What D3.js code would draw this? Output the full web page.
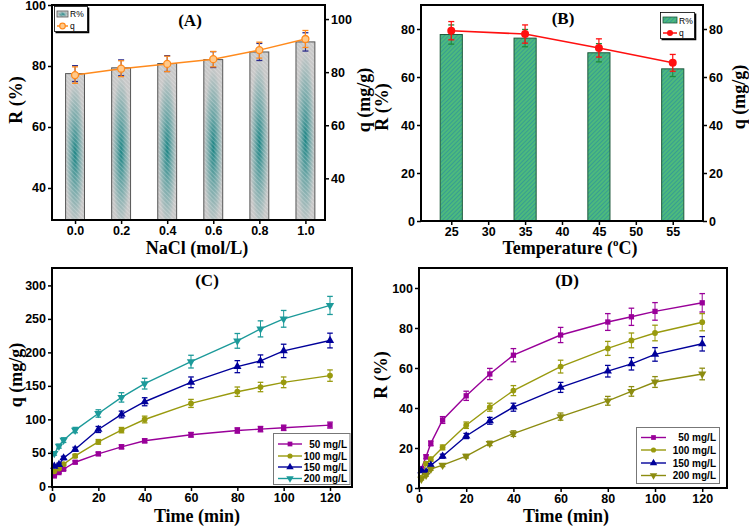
<!DOCTYPE html>
<html><head><meta charset="utf-8">
<script src="https://cdn.jsdelivr.net/npm/d3@7"></script>
<style>body{margin:0;background:#fff}</style>
</head><body>
<svg id="c" width="749" height="529" xmlns="http://www.w3.org/2000/svg"></svg>
<script>
// ---------- Panel A data ----------
const nacl = [0.0, 0.2, 0.4, 0.6, 0.8, 1.0];
const naclTickLabels = ["0.0", "0.2", "0.4", "0.6", "0.8", "1.0"];
const naclR = [77.5, 79.4, 80.8, 82.1, 84.6, 87.9];
const naclRErr = [2.6, 2.6, 2.6, 2.6, 2.8, 3.0];
const naclQ = [78.9, 81.3, 83.1, 84.9, 88.3, 92.5];
const naclQErr = [3.1, 3.0, 2.9, 2.9, 3.0, 3.2];
const aLeftTicks = [40, 60, 80, 100];
const aRightTicks = [40, 60, 80, 100];
// ---------- Panel B data ----------
const temps = [25, 35, 45, 55];
const tempTicks = [25, 30, 35, 40, 45, 50, 55];
const tempR = [77.7, 76.2, 70.1, 63.4];
const tempRErr = [4.0, 3.6, 3.8, 3.2];
const tempQ = [79.3, 77.9, 72.1, 65.9];
const tempQErr = [3.8, 3.8, 3.8, 3.5];
const bTicks = [0, 20, 40, 60, 80];
// ---------- Panels C & D data ----------
const times = [1, 3, 5, 10, 20, 30, 40, 60, 80, 90, 100, 120];
const timeTicks = [0, 20, 40, 60, 80, 100, 120];
const concLabels = ["50 mg/L", "100 mg/L", "150 mg/L", "200 mg/L"];
const qC50 = [15.5, 20.5, 25.5, 36, 48.5, 59, 68, 77, 83.4, 85.4, 87.4, 91.4];
const qC100 = [22.5, 26.5, 33, 45.4, 66.4, 83.9, 99.8, 123.8, 141.3, 148.3, 155.3, 165.3];
const qC150 = [30, 32.5, 42.4, 55.4, 84.9, 107.3, 126.3, 155.3, 178.7, 187.2, 202.2, 217.7];
const qC200 = [49, 60, 69, 84, 108.8, 132.8, 153.3, 186.2, 217.2, 235.1, 250.1, 270.1];
const qC50Err = [1, 1, 1.5, 2, 2.5, 3, 3, 3.5, 4, 4, 4, 4.5];
const qC100Err = [1.5, 1.5, 2, 2.5, 3.5, 4, 5, 6, 7, 7, 8, 8.5];
const qC150Err = [2, 2, 2.5, 3, 4.5, 5, 6, 8, 9, 9, 10, 11];
const qC200Err = [2.5, 3, 3.5, 4, 5.5, 7, 8, 9.5, 11, 12, 12.5, 13.5];
const cTicks = [0, 50, 100, 150, 200, 250, 300];
const rD50 = [9.7, 15.6, 22.3, 34, 46.1, 57, 66.4, 76.5, 83, 85.6, 88.3, 92.6];
const rD100 = [5.2, 12.2, 14.4, 20.3, 31.4, 40.4, 48.7, 60.7, 69.8, 73.8, 77.5, 82.9];
const rD150 = [8.6, 8.1, 11.4, 15.9, 26, 33.6, 40.4, 50.3, 58.4, 62.1, 66.8, 72.1];
const rD200 = [4.4, 6.4, 9.4, 11.4, 15.9, 22.3, 27.2, 35.7, 43.6, 48.3, 53, 57];
const rD50Err = [0.8, 1, 1.2, 1.7, 2.3, 2.8, 3.3, 3.8, 4.2, 4.3, 4.4, 4.6];
const rD100Err = [0.5, 0.8, 1, 1.2, 1.6, 2, 2.5, 3.2, 3.5, 3.7, 3.9, 4.3];
const rD150Err = [0.5, 0.6, 0.8, 1, 1.3, 1.7, 2, 2.5, 2.9, 3.1, 3.4, 3.6];
const rD200Err = [0.4, 0.5, 0.6, 0.7, 0.9, 1.1, 1.4, 1.8, 2.2, 2.4, 2.7, 2.9];
const dTicks = [0, 20, 40, 60, 80, 100];

const svg = d3.select("#c");
const defs = svg.append("defs");
const SANS = "Liberation Sans, Arial, sans-serif";
const SERIF = "Liberation Serif, Times New Roman, serif";

// Bar fills
const gA = defs.append("radialGradient").attr("id", "gradA").attr("cx", 0.5).attr("cy", 0.55).attr("r", 0.5);
gA.append("stop").attr("offset", 0).attr("stop-color", "#1d8585");
gA.append("stop").attr("offset", 0.45).attr("stop-color", "#72a8a8");
gA.append("stop").attr("offset", 1).attr("stop-color", "#c8c8c8");
const hA = defs.append("pattern").attr("id", "hatchA").attr("width", 3).attr("height", 3)
  .attr("patternUnits", "userSpaceOnUse").attr("patternTransform", "rotate(-45)");
hA.append("line").attr("x1", 0).attr("y1", 0).attr("x2", 0).attr("y2", 3)
  .attr("stroke", "#ffffff").attr("stroke-opacity", 0.45).attr("stroke-width", 1.1);
const hB = defs.append("pattern").attr("id", "hatchB").attr("width", 3).attr("height", 3)
  .attr("patternUnits", "userSpaceOnUse").attr("patternTransform", "rotate(45)");
hB.append("rect").attr("width", 3).attr("height", 3).attr("fill", "#4dba7c");
hB.append("line").attr("x1", 0).attr("y1", 0).attr("x2", 0).attr("y2", 3)
  .attr("stroke", "#2a8ea0").attr("stroke-width", 1.3);

function styleAxis(a) {
  a.select(".domain").remove();
  a.selectAll(".tick line").attr("stroke", "#000").attr("stroke-width", 1.5);
  a.selectAll(".tick text").attr("font-family", SANS).attr("font-weight", "bold")
    .attr("font-size", 12.5).attr("fill", "#000");
}
function addAxis(gen, x, y, ticks, fmt) {
  const a = svg.append("g").attr("transform", `translate(${x},${y})`)
    .call(gen.tickValues(ticks).tickFormat(fmt || (d => d)).tickSizeOuter(0).tickSize(4).tickPadding(2));
  styleAxis(a);
  return a;
}
function frame(p) {
  svg.append("rect").attr("x", p.x0).attr("y", p.y0).attr("width", p.x1 - p.x0).attr("height", p.y1 - p.y0)
    .attr("fill", "none").attr("stroke", "#000").attr("stroke-width", 2);
}
function title(txt, x, y) {
  svg.append("text").attr("x", x).attr("y", y).attr("text-anchor", "middle").attr("font-family", SERIF)
    .attr("font-weight", "bold").attr("font-size", 17).text(txt);
}
function yLabel(txt, x, y) {
  svg.append("text").attr("transform", `translate(${x},${y}) rotate(-90)`).attr("text-anchor", "middle")
    .attr("dominant-baseline", "middle").attr("font-family", SERIF).attr("font-weight", "bold")
    .attr("font-size", 18).text(txt);
}
function xLabel(txt, x, y) {
  return svg.append("text").attr("x", x).attr("y", y).attr("text-anchor", "middle").attr("dominant-baseline", "middle")
    .attr("font-family", SERIF).attr("font-weight", "bold").attr("font-size", 18).text(txt);
}
function errBars(g, xs, ys, es, x, y, color, cap, sw) {
  xs.forEach((xv, i) => {
    const cx = x(xv), t = y(ys[i] + es[i]), b = y(ys[i] - es[i]);
    g.append("line").attr("x1", cx).attr("x2", cx).attr("y1", t).attr("y2", b).attr("stroke", color).attr("stroke-width", sw || 1);
    g.append("line").attr("x1", cx - cap).attr("x2", cx + cap).attr("y1", t).attr("y2", t).attr("stroke", color).attr("stroke-width", 1.3);
    g.append("line").attr("x1", cx - cap).attr("x2", cx + cap).attr("y1", b).attr("y2", b).attr("stroke", color).attr("stroke-width", 1.3);
  });
}

// ================= Panel A =================
const pA = {x0: 52, x1: 325, y0: 5, y1: 220};
const xA = d3.scaleLinear([-0.1, 1.085], [pA.x0, pA.x1]);
const yAL = d3.scaleLinear([29.5, 100], [pA.y1, pA.y0]);
const yAR = d3.scaleLinear([24.3, 105.3], [pA.y1, pA.y0]);
const bwA = (xA(0.2) - xA(0)) * 0.41;
const gAbar = svg.append("g");
nacl.forEach((v, i) => {
  const r = {x: xA(v) - bwA / 2, y: yAL(naclR[i]), w: bwA, h: pA.y1 - yAL(naclR[i])};
  gAbar.append("rect").attr("x", r.x).attr("y", r.y).attr("width", r.w).attr("height", r.h).attr("fill", "url(#gradA)");
  gAbar.append("rect").attr("x", r.x).attr("y", r.y).attr("width", r.w).attr("height", r.h)
    .attr("fill", "url(#hatchA)").attr("stroke", "#555").attr("stroke-width", 1);
});
errBars(svg.append("g"), nacl, naclR, naclRErr, xA, yAL, "#2a2a8a", 3, 1);
const lineA = d3.line().x((d, i) => xA(nacl[i])).y(d => yAR(d));
svg.append("path").datum(naclQ).attr("d", lineA).attr("fill", "none").attr("stroke", "#ff8a1c").attr("stroke-width", 1.5);
errBars(svg.append("g"), nacl, naclQ, naclQErr, xA, yAR, "#ff8a1c", 3, 1.2);
svg.append("g").selectAll("circle").data(naclQ).join("circle")
  .attr("cx", (d, i) => xA(nacl[i])).attr("cy", d => yAR(d)).attr("r", 3.5)
  .attr("fill", "#ffc98a").attr("stroke", "#ff8a1c").attr("stroke-width", 1.3);
addAxis(d3.axisBottom(xA), 0, pA.y1, nacl, (d, i) => naclTickLabels[i]);
addAxis(d3.axisLeft(yAL), pA.x0, 0, aLeftTicks);
addAxis(d3.axisRight(yAR), pA.x1, 0, aRightTicks);
frame(pA);
// legend A
svg.append("rect").attr("x", 54.5).attr("y", 6.5).attr("width", 33).attr("height", 25).attr("fill", "#fff")
  .attr("stroke", "#000").attr("stroke-width", 0.8);
svg.append("path").attr("d", "M55.5,32.5 H88.5 V7.5").attr("fill", "none").attr("stroke", "#000").attr("stroke-width", 1.6);
svg.append("rect").attr("x", 57).attr("y", 11).attr("width", 11).attr("height", 6).attr("fill", "url(#gradA)");
svg.append("rect").attr("x", 57).attr("y", 11).attr("width", 11).attr("height", 6).attr("fill", "url(#hatchA)").attr("stroke", "#555").attr("stroke-width", 0.8);
svg.append("text").attr("x", 70).attr("y", 17).attr("font-family", SANS).attr("font-size", 8.5).text("R%");
svg.append("line").attr("x1", 57).attr("x2", 68).attr("y1", 26).attr("y2", 26).attr("stroke", "#ff8a1c").attr("stroke-width", 1.5);
svg.append("circle").attr("cx", 62.5).attr("cy", 26).attr("r", 2.8).attr("fill", "#ffc98a").attr("stroke", "#ff8a1c").attr("stroke-width", 1.2);
svg.append("text").attr("x", 70).attr("y", 29).attr("font-family", SANS).attr("font-size", 8.5).text("q");
title("(A)", 190, 26);
yLabel("R (%)", 18, 100);
yLabel("q (mg/g)", 366, 100);
xLabel("NaCl (mol/L)", 197, 250);

// ================= Panel B =================
const pB = {x0: 421, x1: 703, y0: 5, y1: 221};
const xB = d3.scaleLinear([20.9, 59.1], [pB.x0, pB.x1]);
const yBL = d3.scaleLinear([0, 90], [pB.y1, pB.y0]);
const yBR = d3.scaleLinear([0, 90], [pB.y1, pB.y0]);
const bwB = (xB(35) - xB(25)) * 0.3;
svg.append("g").selectAll("rect").data(tempR).join("rect")
  .attr("x", (d, i) => xB(temps[i]) - bwB / 2).attr("y", d => yBL(d)).attr("width", bwB)
  .attr("height", d => pB.y1 - yBL(d)).attr("fill", "url(#hatchB)").attr("stroke", "#1f5a3c").attr("stroke-width", 1);
errBars(svg.append("g"), temps, tempR, tempRErr, xB, yBL, "#1f8a3a", 3, 1);
const lineB = d3.line().x((d, i) => xB(temps[i])).y(d => yBR(d));
svg.append("path").datum(tempQ).attr("d", lineB).attr("fill", "none").attr("stroke", "#ff1010").attr("stroke-width", 1.6);
errBars(svg.append("g"), temps, tempQ, tempQErr, xB, yBR, "#ff1010", 3, 1.2);
svg.append("g").selectAll("circle").data(tempQ).join("circle")
  .attr("cx", (d, i) => xB(temps[i])).attr("cy", d => yBR(d)).attr("r", 4).attr("fill", "#ff1010");
addAxis(d3.axisBottom(xB), 0, pB.y1, tempTicks);
addAxis(d3.axisLeft(yBL), pB.x0, 0, bTicks);
addAxis(d3.axisRight(yBR), pB.x1, 0, bTicks);
frame(pB);
// legend B
svg.append("rect").attr("x", 660.5).attr("y", 12.5).attr("width", 34).attr("height", 26).attr("fill", "#fff")
  .attr("stroke", "#000").attr("stroke-width", 0.8);
svg.append("path").attr("d", "M661.5,39.5 H695.5 V13.5").attr("fill", "none").attr("stroke", "#000").attr("stroke-width", 1.6);
svg.append("rect").attr("x", 663).attr("y", 17).attr("width", 14).attr("height", 6).attr("fill", "url(#hatchB)").attr("stroke", "#1f5a3c").attr("stroke-width", 0.8);
svg.append("text").attr("x", 679).attr("y", 23.5).attr("font-family", SANS).attr("font-size", 8.5).text("R%");
svg.append("line").attr("x1", 663).attr("x2", 677).attr("y1", 33).attr("y2", 33).attr("stroke", "#ff1010").attr("stroke-width", 1.5);
svg.append("circle").attr("cx", 670).attr("cy", 33).attr("r", 3).attr("fill", "#ff1010");
svg.append("text").attr("x", 679).attr("y", 36).attr("font-family", SANS).attr("font-size", 8.5).text("q");
title("(B)", 563, 24);
yLabel("R (%)", 384, 107);
yLabel("q (mg/g)", 741, 97);
// "Temperature (°C)" built from three adjacent texts (superscript o)
{
  const parts = [
    {t: "Temperature (", size: 18, dy: 0},
    {t: "o", size: 11, dy: -7},
    {t: "C)", size: 18, dy: 0}
  ];
  const nodes = parts.map(p => svg.append("text").attr("font-family", SERIF).attr("font-weight", "bold")
    .attr("font-size", p.size).attr("dominant-baseline", "middle").text(p.t));
  const widths = nodes.map(n => n.node().getComputedTextLength());
  let x0 = 570 - d3.sum(widths) / 2;
  nodes.forEach((n, i) => { n.attr("x", x0).attr("y", 250 + parts[i].dy); x0 += widths[i]; });
}

// ================= Panels C & D (kinetic curves) =================
const symTypes = [d3.symbolSquare, d3.symbolCircle, d3.symbolTriangle, d3.symbolTriangle];
const symRot = [0, 0, 0, 180];
const symSize = [28, 26, 30, 30];
function kinetic(p, x, y, series, errs, colors, legend) {
  const g = svg.append("g");
  const line = d3.line().x((d, i) => x(times[i])).y(d => y(d));
  series.forEach((s, k) => {
    g.append("path").datum(s).attr("d", line).attr("fill", "none").attr("stroke", colors[k]).attr("stroke-width", 1.4);
    errBars(g, times, s, errs[k], x, y, colors[k], 2.8, 1);
    g.append("g").selectAll("path").data(s).join("path")
      .attr("d", d3.symbol(symTypes[k], symSize[k]))
      .attr("transform", (d, i) => `translate(${x(times[i])},${y(d)}) rotate(${symRot[k]})`)
      .attr("fill", colors[k]);
  });
  const L = legend;
  svg.append("rect").attr("x", L.x0).attr("y", L.y0).attr("width", L.x1 - L.x0).attr("height", L.y1 - L.y0)
    .attr("fill", "#fff").attr("stroke", "#777").attr("stroke-width", 1);
  concLabels.forEach((lab, k) => {
    const yy = L.rows[k];
    svg.append("line").attr("x1", L.lx0).attr("x2", L.lx1).attr("y1", yy).attr("y2", yy).attr("stroke", colors[k]).attr("stroke-width", 1.4);
    svg.append("path").attr("d", d3.symbol(symTypes[k], symSize[k] * 0.8))
      .attr("transform", `translate(${(L.lx0 + L.lx1) / 2},${yy}) rotate(${symRot[k]})`).attr("fill", colors[k]);
    svg.append("text").attr("x", L.tx).attr("y", yy).attr("dy", "0.36em").attr("text-anchor", "end")
      .attr("font-family", SANS).attr("font-weight", "bold").attr("font-size", 10).text(lab);
  });
  frame(p);
}

const pC = {x0: 52, x1: 352, y0: 268, y1: 487};
const xC = d3.scaleLinear([0, 129.5], [pC.x0, pC.x1]);
const yC = d3.scaleLinear([-1, 326], [pC.y1, pC.y0]);
addAxis(d3.axisBottom(xC), 0, pC.y1, timeTicks);
addAxis(d3.axisLeft(yC), pC.x0, 0, cTicks);
kinetic(pC, xC, yC, [qC50, qC100, qC150, qC200], [qC50Err, qC100Err, qC150Err, qC200Err],
  ["#990099", "#999a0e", "#00009a", "#1c9a9a"],
  {x0: 273.5, x1: 350, y0: 433.5, y1: 484.5, lx0: 278, lx1: 302, tx: 347, rows: [444, 456, 467, 478.5]});
title("(C)", 207, 286);
yLabel("q (mg/g)", 18, 375);
xLabel("Time (min)", 197, 518);

const pD = {x0: 419, x1: 727, y0: 268, y1: 488};
const xD = d3.scaleLinear([0, 130.5], [pD.x0, pD.x1]);
const yD = d3.scaleLinear([0, 110], [pD.y1, pD.y0]);
addAxis(d3.axisBottom(xD), 0, pD.y1, timeTicks);
addAxis(d3.axisLeft(yD), pD.x0, 0, dTicks);
kinetic(pD, xD, yD, [rD50, rD100, rD150, rD200], [rD50Err, rD100Err, rD150Err, rD200Err],
  ["#990099", "#999a0e", "#00009a", "#8c8c10"],
  {x0: 636.5, x1: 719.5, y0: 427.5, y1: 483.5, lx0: 641, lx1: 666, tx: 716, rows: [437.5, 450, 463, 475.5]});
title("(D)", 567, 286);
yLabel("R (%)", 383, 375);
xLabel("Time (min)", 566, 518);
</script>
</body></html>
